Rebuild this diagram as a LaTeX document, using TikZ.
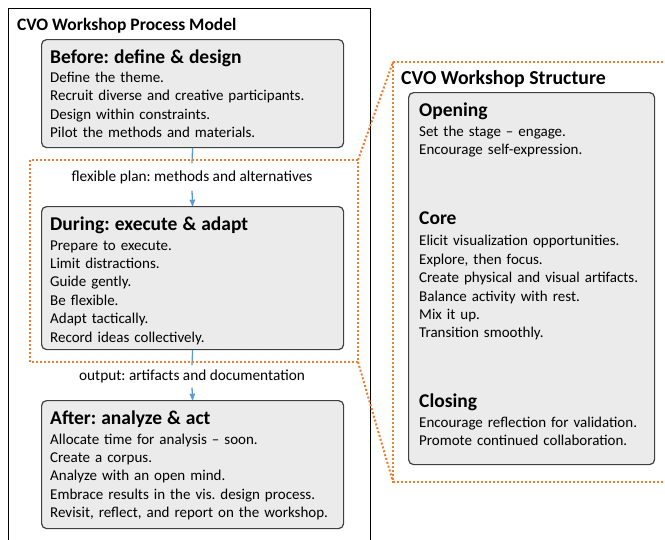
\documentclass[tikz,border=0pt]{standalone}
\usepackage{fontspec}
\setmainfont{Carlito}
\usetikzlibrary{arrows}
\definecolor{boxfill}{HTML}{EBEBEB}
\definecolor{boxline}{HTML}{404040}
\definecolor{flowblue}{HTML}{5B9BD5}
\definecolor{zoomorange}{HTML}{ED7D31}
\frenchspacing
\newcommand{\headfont}{\fontsize{19.5}{23}\selectfont\bfseries}
\newcommand{\titlefont}{\fontsize{17.5}{22}\selectfont\bfseries}
\newcommand{\bigtitlefont}{\fontsize{19.8}{24}\selectfont\bfseries}

\begin{document}
\begin{tikzpicture}[x=1pt,y=-1pt,>=stealth',
	phase/.style={draw=boxline, fill=boxfill, rounded corners=5pt, line width=1.2pt, anchor=north west, inner sep=0pt},
	phasetext/.style={anchor=base west, inner sep=0pt, align=left, font=\fontsize{15}{18.4}\selectfont},
	flowlabel/.style={inner sep=0pt, font=\fontsize{15.3}{18}\selectfont},
	flow/.style={draw=flowblue, line width=1.3pt},
	zoom/.style={draw=zoomorange, line width=2pt, dotted}]
	\useasboundingbox (0,0) rectangle (665,539);
	% process model
	\draw[line width=0.9pt] (8,545) -- (8,8) -- (370,8) -- (370,545);
	\node[anchor=base west, inner sep=0pt, font=\titlefont] (modeltitle) at (17,30) {CVO Workshop Process Model};
	\node[phase, minimum width=302pt, minimum height=108pt] (before) at (41,39) {};
	\node[phase, minimum width=302pt, minimum height=143pt] (during) at (41,206) {};
	\node[phase, minimum width=302pt, minimum height=128pt] (after) at (41,400) {};
	\node[phasetext, text width=290pt] (beforetext) at (50,63) {{\headfont Before: define \& design\par}\vspace{0.8pt}
		Define the theme.\\ Recruit diverse and creative participants.\\ Design within constraints.\\ Pilot the methods and materials.};
	\node[phasetext, text width=290pt] (duringtext) at (50,230) {{\headfont During: execute \& adapt\par}\vspace{1.6pt}
		Prepare to execute.\\ Limit distractions.\\ Guide gently.\\ Be flexible.\\ Adapt tactically.\\ Record ideas collectively.};
	\node[phasetext, text width=290pt] (aftertext) at (50,424) {{\headfont After: analyze \& act\par}\vspace{1.6pt}
		Allocate time for analysis -- soon.\\ Create a corpus.\\ Analyze with an open mind.\\ Embrace results in the vis. design process.\\ Revisit, reflect, and report on the workshop.};
	\node[flowlabel, minimum height=27pt] (plan) at (192,177) {flexible plan: methods and alternatives};
	\node[flowlabel, minimum height=22pt] (output) at (192,376.5) {output: artifacts and documentation};
	\draw[flow] (before.south) -- (plan.north);
	\draw[flow,->] (plan.south) -- (during.north);
	\draw[flow] (during.south) -- (output.north);
	\draw[flow,->] (output.south) -- (after.north);
	% workshop structure
	\node[anchor=base west, inner sep=0pt, font=\bigtitlefont] (structuretitle) at (401,84) {CVO Workshop Structure};
	\node[phase, minimum width=246pt, minimum height=372pt] (structure) at (408,92) {};
	\node[phasetext, text width=235pt] (structuretext) at (419,116) {{\headfont Opening\par}\vspace{1.6pt}
		Set the stage -- engage.\\ Encourage self-expression.\par\vspace{47pt}
		{\headfont Core\par}\vspace{3pt}
		Elicit visualization opportunities.\\ Explore, then focus.\\ Create physical and visual artifacts.\\ Balance activity with rest.\\ Mix it up.\\ Transition smoothly.\par\vspace{46.3pt}
		{\headfont Closing\par}\vspace{1.6pt}
		Encourage reflection for validation.\\ Promote continued collaboration.};
	% zoom frames
	\coordinate (during nw) at (30,160);
	\coordinate (during se) at (358,362);
	\coordinate (structure nw) at (393,62);
	\coordinate (structure se) at (672,482);
	\draw[zoom] (during nw) rectangle (during se);
	\draw[zoom] (structure nw) rectangle (structure se);
	\draw[zoom] (during se |- during nw) -- (structure nw);
	\draw[zoom] (during se) -- (structure nw |- structure se);
\end{tikzpicture}
\end{document}
